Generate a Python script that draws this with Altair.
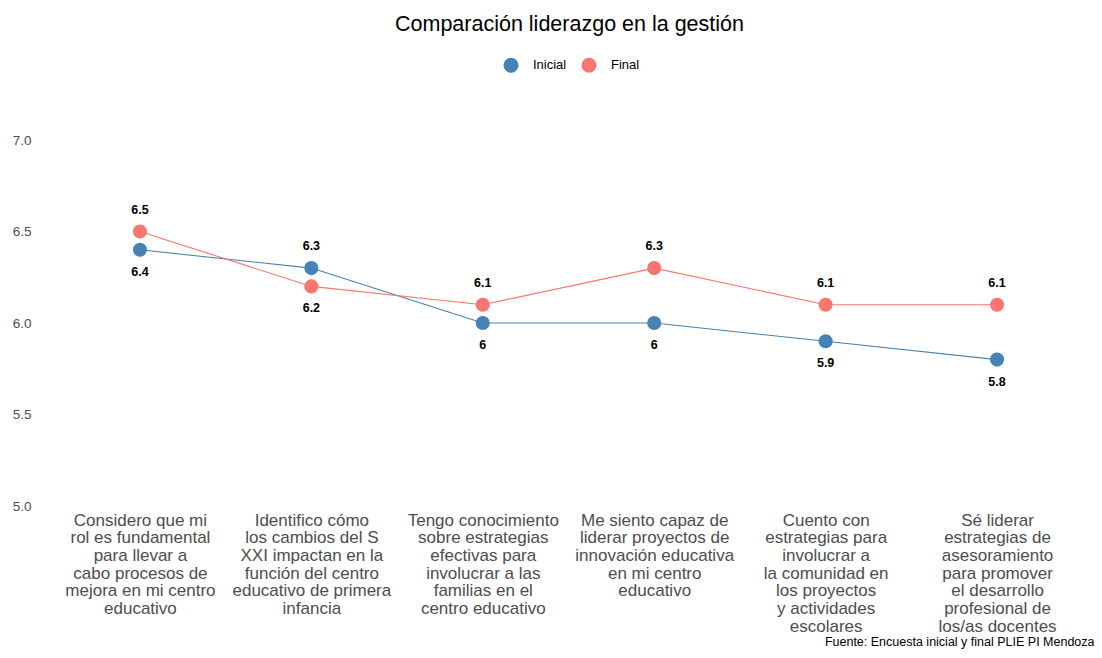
import altair as alt
import pandas as pd

categories = [
    "Considero que mi|rol es fundamental|para llevar a|cabo procesos de|mejora en mi centro|educativo",
    "Identifico cómo|los cambios del S|XXI impactan en la|función del centro|educativo de primera|infancia",
    "Tengo conocimiento|sobre estrategias|efectivas para|involucrar a las|familias en el|centro educativo",
    "Me siento capaz de|liderar proyectos de|innovación educativa|en mi centro|educativo",
    "Cuento con|estrategias para|involucrar a|la comunidad en|los proyectos|y actividades|escolares",
    "Sé liderar|estrategias de|asesoramiento|para promover|el desarrollo|profesional de|los/as docentes",
]
inicial = [6.4, 6.3, 6.0, 6.0, 5.9, 5.8]
final = [6.5, 6.2, 6.1, 6.3, 6.1, 6.1]
series = ["Inicial", "Final"]
colors = ["#4682B4", "#F8766D"]
y_ticks = [5.0, 5.5, 6.0, 6.5, 7.0]

rows = []
for c, a, b in zip(categories, inicial, final):
    rows.append({"cat": c, "serie": "Inicial", "value": a, "label": f"{a:g}",
                 "pos": "above" if a > b else "below"})
    rows.append({"cat": c, "serie": "Final", "value": b, "label": f"{b:g}",
                 "pos": "above" if b > a else "below"})
df = pd.DataFrame(rows)

FONT = "Liberation Sans"

x_enc = alt.X(
    "cat:N", sort=categories, title="Fuente: Encuesta inicial y final PLIE PI Mendoza",
    scale=alt.Scale(padding=0.583, align=0.515),
    axis=alt.Axis(
        labelExpr="split(datum.value, '|')", labelAngle=0, labelFontSize=17,
        labelLineHeight=17.7, labelColor="#4d4d4d", labelFont=FONT, labelPadding=6,
        labelLimit=0, labelOverlap=False, labelBound=False, domain=False, ticks=False,
        grid=False, titleAnchor="end", titleAlign="right", titleFontSize=12.5,
        titleFontWeight="normal", titleFont=FONT, titleColor="black", titlePadding=1,
    ),
)
y_enc = alt.Y(
    "value:Q", title=None,
    scale=alt.Scale(domain=[5, 7], nice=False, zero=False),
    axis=alt.Axis(values=y_ticks, format=".1f", domain=False, ticks=False, grid=False,
                  labelFontSize=13.5, labelColor="#4d4d4d", labelFont=FONT, labelPadding=6),
)
color_enc = alt.Color(
    "serie:N", sort=series, scale=alt.Scale(domain=series, range=colors),
    legend=alt.Legend(title=None, orient="none", direction="horizontal", legendX=466,
                      legendY=-83, symbolType="circle", symbolSize=227, symbolStrokeWidth=0,
                      labelFontSize=13, labelFont=FONT, labelColor="black", columnPadding=14,
                      labelOffset=14, symbolOpacity=1),
)

base = alt.Chart(df).encode(x=x_enc, y=y_enc, color=color_enc, detail="serie:N")
lines = base.mark_line(strokeWidth=1.1)
points = base.mark_circle(size=200, opacity=1)
txt_above = alt.Chart(df).transform_filter("datum.pos == 'above'").mark_text(
    dy=-22, fontWeight="bold", fontSize=12.5, font=FONT, color="black"
).encode(x=alt.X("cat:N", sort=categories), y="value:Q", text="label:N")
txt_below = alt.Chart(df).transform_filter("datum.pos == 'below'").mark_text(
    dy=22, fontWeight="bold", fontSize=12.5, font=FONT, color="black"
).encode(x=alt.X("cat:N", sort=categories), y="value:Q", text="label:N")

chart = alt.layer(lines, points, txt_above, txt_below).properties(
    width=1057, height=366,
    autosize=alt.AutoSizeParams(type="none"),
    padding={"left": 29, "right": 0, "top": 132, "bottom": 144},
    title=alt.TitleParams("Comparación liderazgo en la gestión", fontSize=21.5,
                          fontWeight="normal", font=FONT, color="black", anchor="middle",
                          offset=22, dx=4),
).configure_view(stroke=None)

chart.save("out.html", embed_options={"renderer": "svg", "actions": False})
